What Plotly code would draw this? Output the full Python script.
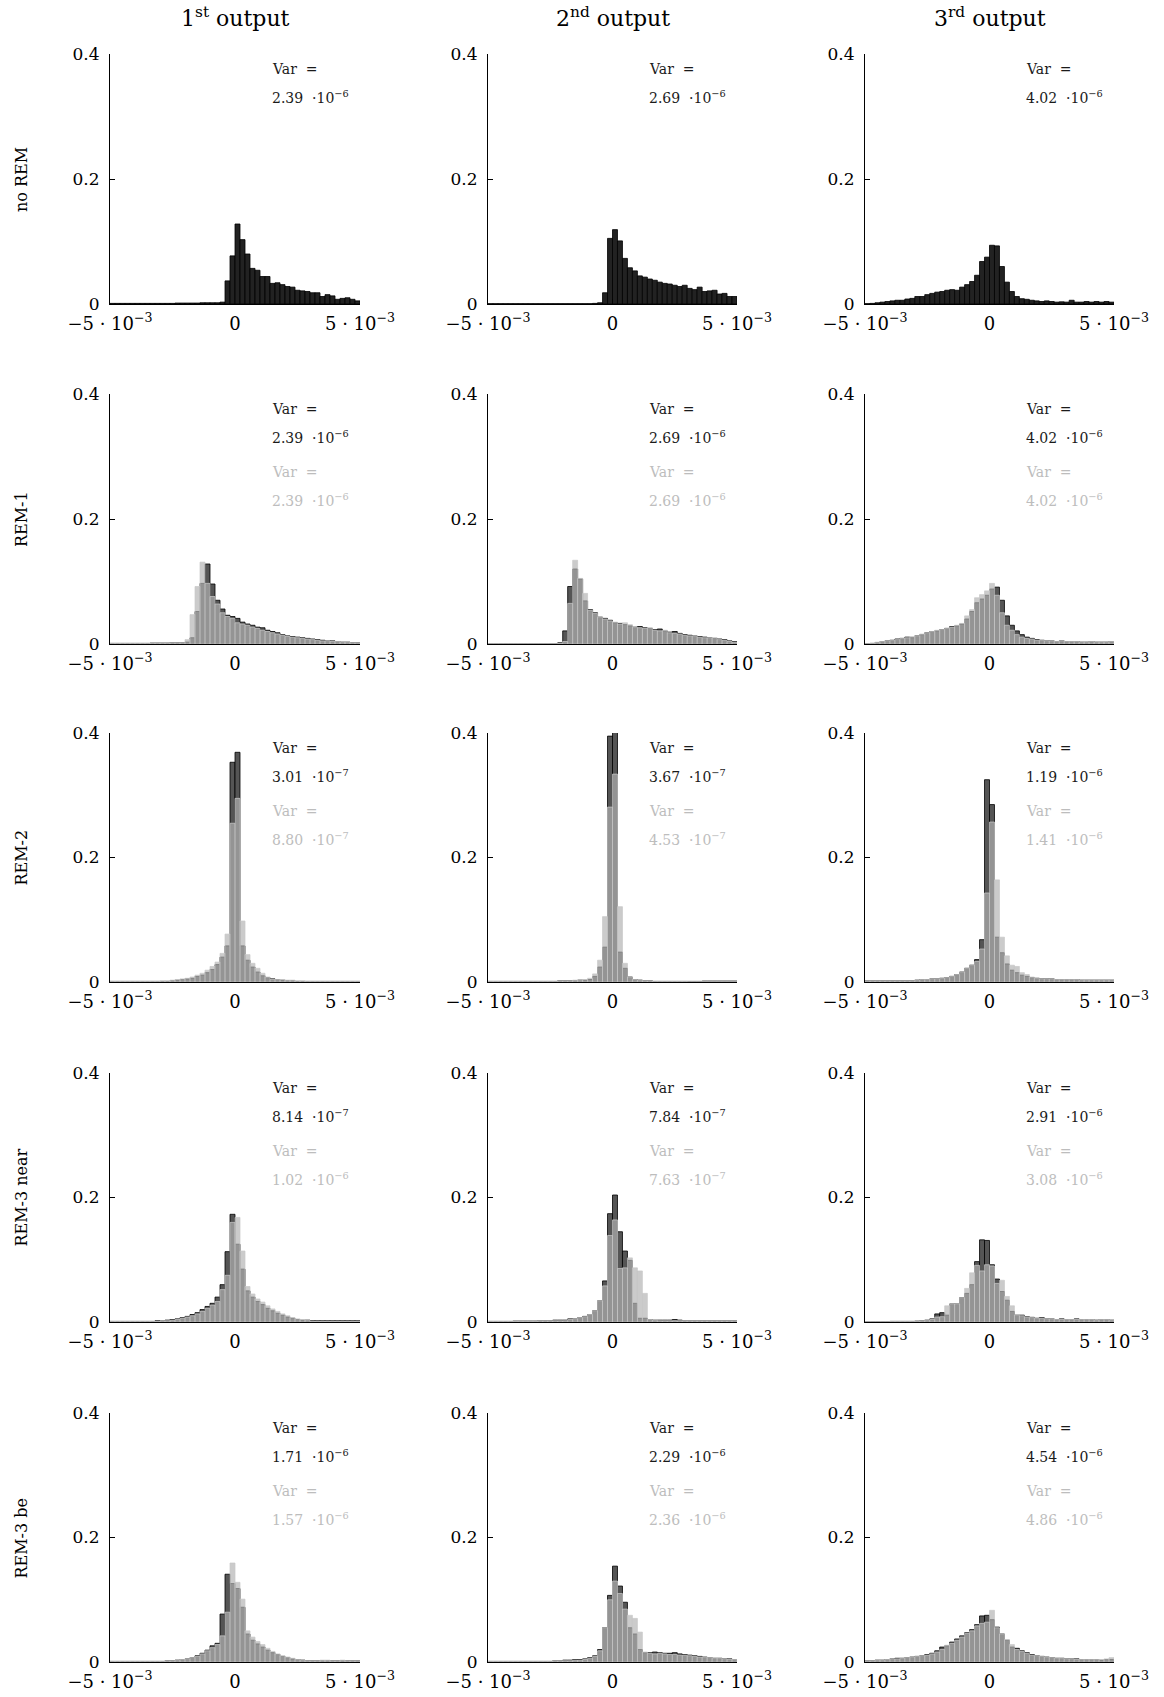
import plotly.graph_objects as go

# ---------------- data ----------------
BIN_WIDTH = 2e-4
N_BINS = 50
X_MIN, X_MAX = -5e-3, 5e-3
bin_centers = [X_MIN + BIN_WIDTH * (k + 0.5) for k in range(N_BINS)]

col_titles = ["1<sup>st</sup> output", "2<sup>nd</sup> output", "3<sup>rd</sup> output"]
row_labels = ["no REM", "REM-1", "REM-2", "REM-3 near", "REM-3 be"]

x_tickvals = [-5e-3, 0, 5e-3]
x_ticktext = ["\u22125 \u00b7 10<sup>\u22123</sup>", "0", "5 \u00b7 10<sup>\u22123</sup>"]
y_tickvals = [0, 0.2, 0.4]
y_ticktext = ["0", "0.2", "0.4"]

# ---- no REM (single series) ----
noREM_1 = [0.001,0.001,0.001,0.001,0.001,0.001,0.001,0.001,0.001,0.001,
           0.001,0.001,0.001,0.0015,0.0015,0.0015,0.0015,0.0015,0.002,0.002,
           0.002,0.002,0.003,0.037,0.077,0.128,0.103,0.080,0.057,0.054,
           0.044,0.044,0.033,0.034,0.031,0.028,0.027,0.022,0.021,0.020,
           0.018,0.018,0.012,0.015,0.013,0.0075,0.009,0.010,0.0075,0.005]
noREM_2 = [0.0005,0.0005,0.0005,0.0005,0.0005,0.0005,0.0005,0.0005,0.0005,0.0005,
           0.0005,0.0005,0.0005,0.0005,0.0005,0.0005,0.0005,0.0005,0.0005,0.0005,
           0.0005,0.001,0.002,0.018,0.105,0.119,0.101,0.073,0.058,0.053,
           0.045,0.043,0.040,0.038,0.035,0.033,0.032,0.030,0.028,0.030,
           0.025,0.023,0.027,0.020,0.021,0.022,0.016,0.017,0.012,0.012]
noREM_3 = [0.0005,0.001,0.002,0.003,0.004,0.005,0.006,0.006,0.008,0.009,
           0.012,0.012,0.015,0.017,0.019,0.020,0.022,0.023,0.022,0.027,
           0.031,0.036,0.046,0.068,0.075,0.094,0.093,0.060,0.035,0.020,
           0.012,0.0085,0.0075,0.006,0.005,0.004,0.005,0.004,0.003,0.0035,
           0.003,0.006,0.003,0.003,0.004,0.003,0.004,0.003,0.004,0.003]

# ---- REM-1 ----
rem1_1_dark = [0.001,0.001,0.001,0.001,0.001,0.001,0.001,0.001,0.0015,0.0015,
               0.0015,0.0015,0.002,0.002,0.002,0.003,0.010,0.052,0.097,0.128,
               0.096,0.070,0.056,0.046,0.044,0.041,0.035,0.032,0.030,0.027,
               0.026,0.022,0.020,0.018,0.015,0.013,0.012,0.011,0.010,0.009,
               0.008,0.007,0.006,0.005,0.005,0.004,0.003,0.003,0.002,0.002]
rem1_1_light = [0.001,0.001,0.001,0.001,0.001,0.001,0.001,0.001,0.0015,0.0015,
                0.0015,0.0015,0.002,0.002,0.002,0.007,0.047,0.092,0.131,0.097,
                0.076,0.064,0.050,0.044,0.041,0.034,0.032,0.030,0.027,0.025,
                0.022,0.020,0.018,0.016,0.014,0.012,0.011,0.010,0.009,0.008,
                0.007,0.006,0.005,0.005,0.004,0.004,0.003,0.003,0.002,0.002]
rem1_2_dark = [0.0005,0.0005,0.0005,0.0005,0.0005,0.0005,0.0005,0.0005,0.0005,0.0005,
               0.0005,0.0005,0.0005,0.0005,0.002,0.021,0.092,0.120,0.104,0.069,
               0.055,0.050,0.043,0.041,0.038,0.034,0.033,0.031,0.029,0.027,
               0.028,0.026,0.025,0.023,0.024,0.021,0.019,0.020,0.017,0.015,
               0.014,0.013,0.012,0.011,0.010,0.009,0.008,0.007,0.005,0.004]
rem1_2_light = [0.0005,0.0005,0.0005,0.0005,0.0005,0.0005,0.0005,0.0005,0.0005,0.0005,
                0.0005,0.0005,0.0005,0.0005,0.001,0.004,0.065,0.134,0.105,0.081,
                0.054,0.049,0.043,0.040,0.037,0.035,0.032,0.034,0.031,0.027,
                0.026,0.025,0.026,0.022,0.021,0.022,0.018,0.017,0.016,0.014,
                0.013,0.013,0.011,0.010,0.010,0.010,0.007,0.006,0.004,0.003]
rem1_3_dark = [0.0005,0.001,0.002,0.004,0.005,0.006,0.008,0.009,0.011,0.010,
               0.013,0.015,0.018,0.020,0.021,0.023,0.025,0.028,0.029,0.032,
               0.040,0.052,0.066,0.072,0.078,0.088,0.091,0.070,0.045,0.030,
               0.021,0.015,0.011,0.009,0.007,0.006,0.005,0.005,0.004,0.005,
               0.004,0.004,0.004,0.003,0.003,0.004,0.003,0.003,0.003,0.004]
rem1_3_light = [0.0005,0.001,0.003,0.004,0.005,0.006,0.007,0.009,0.010,0.012,
                0.013,0.016,0.018,0.020,0.022,0.023,0.025,0.027,0.030,0.033,
                0.045,0.055,0.074,0.079,0.085,0.097,0.078,0.050,0.030,0.022,
                0.015,0.011,0.009,0.008,0.006,0.006,0.005,0.005,0.004,0.005,
                0.004,0.004,0.004,0.003,0.003,0.004,0.003,0.003,0.003,0.004]

# ---- REM-2 ----
rem2_1_dark = [0.001,0.001,0.001,0.001,0.001,0.001,0.001,0.001,0.001,0.001,
               0.001,0.001,0.002,0.003,0.004,0.005,0.006,0.009,0.011,0.015,
               0.020,0.028,0.040,0.058,0.353,0.369,0.058,0.035,0.024,0.016,
               0.010,0.007,0.005,0.004,0.003,0.002,0.002,0.001,0.001,0.001,
               0.001,0.001,0.001,0.001,0.001,0.001,0.001,0.001,0.001,0.001]
rem2_1_light = [0.001,0.001,0.001,0.001,0.001,0.001,0.001,0.001,0.001,0.001,
                0.002,0.002,0.003,0.004,0.005,0.006,0.008,0.011,0.014,0.019,
                0.025,0.032,0.046,0.077,0.255,0.295,0.098,0.044,0.030,0.022,
                0.014,0.008,0.004,0.004,0.004,0.003,0.003,0.002,0.002,0.001,
                0.001,0.001,0.001,0.001,0.001,0.001,0.001,0.001,0.001,0.001]
rem2_2_dark = [0.001,0.001,0.001,0.001,0.001,0.001,0.001,0.001,0.001,0.001,
               0.001,0.001,0.001,0.001,0.002,0.002,0.002,0.002,0.003,0.003,
               0.004,0.009,0.024,0.056,0.395,0.401,0.048,0.022,0.008,0.004,
               0.003,0.002,0.002,0.001,0.001,0.001,0.001,0.001,0.001,0.001,
               0.001,0.001,0.001,0.0015,0.0015,0.0015,0.0015,0.0015,0.0015,0.0015]
rem2_2_light = [0.001,0.001,0.001,0.001,0.001,0.001,0.001,0.001,0.001,0.001,
                0.001,0.001,0.001,0.001,0.002,0.002,0.002,0.003,0.003,0.004,
                0.006,0.013,0.035,0.105,0.281,0.334,0.121,0.030,0.008,0.004,
                0.003,0.002,0.002,0.001,0.001,0.001,0.001,0.001,0.001,0.001,
                0.0005,0.0005,0.0005,0.0005,0.0005,0.0005,0.0005,0.0005,0.0005,0.0005]
rem2_3_dark = [0.002,0.002,0.002,0.002,0.002,0.002,0.002,0.002,0.002,0.002,
               0.003,0.004,0.004,0.005,0.005,0.006,0.007,0.009,0.012,0.016,
               0.022,0.027,0.036,0.068,0.325,0.285,0.072,0.047,0.029,0.019,
               0.015,0.011,0.009,0.007,0.006,0.005,0.005,0.005,0.004,0.004,
               0.004,0.004,0.004,0.003,0.003,0.003,0.003,0.003,0.003,0.003]
rem2_3_light = [0.002,0.002,0.002,0.002,0.002,0.002,0.002,0.002,0.002,0.002,
                0.003,0.004,0.004,0.005,0.005,0.006,0.007,0.009,0.012,0.016,
                0.022,0.027,0.033,0.053,0.143,0.257,0.164,0.072,0.042,0.027,
                0.025,0.015,0.012,0.008,0.006,0.005,0.005,0.005,0.004,0.004,
                0.004,0.004,0.004,0.003,0.003,0.003,0.003,0.003,0.003,0.003]

# ---- REM-3 near ----
rem3n_1_dark = [0.001,0.001,0.001,0.001,0.001,0.001,0.001,0.001,0.001,0.002,
                0.002,0.003,0.004,0.005,0.007,0.009,0.012,0.015,0.020,0.025,
                0.030,0.040,0.060,0.113,0.173,0.125,0.085,0.050,0.040,0.033,
                0.028,0.022,0.018,0.014,0.011,0.008,0.006,0.004,0.003,0.003,
                0.002,0.002,0.002,0.002,0.002,0.002,0.002,0.002,0.002,0.002]
rem3n_1_light = [0.001,0.001,0.001,0.001,0.001,0.001,0.001,0.001,0.001,0.001,
                 0.002,0.002,0.003,0.004,0.006,0.008,0.010,0.013,0.017,0.022,
                 0.027,0.033,0.052,0.075,0.160,0.168,0.114,0.057,0.045,0.037,
                 0.032,0.026,0.021,0.017,0.013,0.010,0.007,0.005,0.004,0.003,
                 0.001,0.001,0.001,0.001,0.001,0.001,0.001,0.001,0.001,0.001]
rem3n_2_dark = [0.001,0.001,0.001,0.001,0.001,0.0015,0.0015,0.0015,0.0015,0.0015,
                0.002,0.002,0.002,0.003,0.003,0.003,0.005,0.005,0.007,0.009,
                0.012,0.018,0.034,0.066,0.174,0.204,0.145,0.114,0.099,0.030,
                0.006,0.006,0.004,0.003,0.003,0.003,0.003,0.004,0.003,0.002,
                0.002,0.002,0.002,0.002,0.002,0.002,0.002,0.002,0.002,0.002]
rem3n_2_light = [0.001,0.001,0.001,0.001,0.001,0.001,0.001,0.001,0.001,0.001,
                 0.002,0.002,0.002,0.002,0.002,0.002,0.004,0.005,0.007,0.0085,
                 0.012,0.018,0.034,0.058,0.139,0.164,0.086,0.087,0.103,0.087,
                 0.082,0.046,0.004,0.003,0.002,0.002,0.002,0.002,0.002,0.002,
                 0.002,0.002,0.002,0.002,0.002,0.002,0.002,0.002,0.002,0.002]
rem3n_3_dark = [0.0005,0.0005,0.0005,0.0005,0.0005,0.001,0.001,0.001,0.001,0.001,
                0.0015,0.002,0.003,0.005,0.013,0.015,0.011,0.029,0.029,0.039,
                0.046,0.060,0.097,0.132,0.131,0.092,0.069,0.049,0.035,0.017,
                0.011,0.011,0.0085,0.0075,0.006,0.007,0.005,0.005,0.004,0.005,
                0.004,0.004,0.005,0.004,0.004,0.004,0.003,0.004,0.004,0.003]
rem3n_3_light = [0.0005,0.0005,0.0005,0.0005,0.0005,0.001,0.001,0.001,0.001,0.001,
                 0.0015,0.002,0.003,0.004,0.008,0.0085,0.026,0.029,0.029,0.039,
                 0.054,0.079,0.091,0.082,0.092,0.090,0.062,0.067,0.041,0.026,
                 0.011,0.010,0.008,0.007,0.006,0.006,0.005,0.005,0.004,0.004,
                 0.004,0.004,0.004,0.004,0.004,0.004,0.003,0.004,0.004,0.003]

# ---- REM-3 be ----
rem3b_1_dark = [0.001,0.001,0.001,0.001,0.001,0.001,0.001,0.001,0.001,0.001,
                0.001,0.002,0.002,0.003,0.004,0.005,0.007,0.010,0.014,0.019,
                0.026,0.030,0.077,0.141,0.126,0.118,0.088,0.045,0.035,0.029,
                0.024,0.019,0.015,0.012,0.009,0.007,0.005,0.004,0.003,0.002,
                0.002,0.002,0.002,0.002,0.002,0.002,0.002,0.002,0.002,0.002]
rem3b_1_light = [0.001,0.001,0.001,0.001,0.001,0.001,0.001,0.001,0.001,0.001,
                 0.001,0.002,0.002,0.003,0.004,0.005,0.007,0.009,0.013,0.018,
                 0.023,0.028,0.042,0.080,0.159,0.128,0.101,0.050,0.040,0.033,
                 0.028,0.022,0.017,0.013,0.010,0.008,0.006,0.004,0.003,0.002,
                 0.002,0.002,0.003,0.003,0.002,0.002,0.003,0.002,0.002,0.002]
rem3b_2_dark = [0.001,0.001,0.001,0.001,0.001,0.001,0.001,0.001,0.001,0.001,
                0.001,0.001,0.001,0.002,0.002,0.003,0.003,0.004,0.004,0.005,
                0.007,0.010,0.020,0.055,0.107,0.154,0.122,0.096,0.055,0.045,
                0.020,0.015,0.015,0.016,0.015,0.014,0.014,0.015,0.013,0.012,
                0.011,0.010,0.009,0.008,0.007,0.006,0.006,0.005,0.005,0.004]
rem3b_2_light = [0.001,0.001,0.001,0.001,0.001,0.001,0.001,0.001,0.001,0.001,
                 0.001,0.001,0.001,0.002,0.002,0.002,0.002,0.003,0.003,0.004,
                 0.006,0.009,0.018,0.055,0.100,0.130,0.110,0.085,0.075,0.070,
                 0.048,0.016,0.014,0.013,0.014,0.013,0.012,0.012,0.011,0.011,
                 0.010,0.009,0.008,0.008,0.007,0.006,0.006,0.005,0.004,0.004]
rem3b_3_dark = [0.002,0.002,0.003,0.003,0.004,0.005,0.006,0.006,0.007,0.008,
                0.009,0.010,0.012,0.014,0.018,0.024,0.026,0.032,0.037,0.042,
                0.047,0.052,0.060,0.074,0.075,0.068,0.056,0.045,0.035,0.024,
                0.022,0.018,0.015,0.012,0.010,0.009,0.008,0.007,0.006,0.006,
                0.005,0.005,0.005,0.004,0.004,0.004,0.004,0.003,0.004,0.004]
rem3b_3_light = [0.002,0.002,0.003,0.003,0.004,0.005,0.005,0.006,0.007,0.008,
                 0.009,0.010,0.011,0.013,0.016,0.020,0.027,0.030,0.035,0.040,
                 0.046,0.050,0.058,0.062,0.064,0.083,0.055,0.045,0.036,0.028,
                 0.020,0.017,0.014,0.011,0.010,0.009,0.008,0.007,0.006,0.006,
                 0.005,0.005,0.004,0.004,0.004,0.004,0.004,0.004,0.005,0.007]

dark_series = [
    [noREM_1, noREM_2, noREM_3],
    [rem1_1_dark, rem1_2_dark, rem1_3_dark],
    [rem2_1_dark, rem2_2_dark, rem2_3_dark],
    [rem3n_1_dark, rem3n_2_dark, rem3n_3_dark],
    [rem3b_1_dark, rem3b_2_dark, rem3b_3_dark],
]
light_series = [
    [None, None, None],
    [rem1_1_light, rem1_2_light, rem1_3_light],
    [rem2_1_light, rem2_2_light, rem2_3_light],
    [rem3n_1_light, rem3n_2_light, rem3n_3_light],
    [rem3b_1_light, rem3b_2_light, rem3b_3_light],
]

# variance labels: (mantissa, exponent)
var_dark = [
    [("2.39", -6), ("2.69", -6), ("4.02", -6)],
    [("2.39", -6), ("2.69", -6), ("4.02", -6)],
    [("3.01", -7), ("3.67", -7), ("1.19", -6)],
    [("8.14", -7), ("7.84", -7), ("2.91", -6)],
    [("1.71", -6), ("2.29", -6), ("4.54", -6)],
]
var_light = [
    [None, None, None],
    [("2.39", -6), ("2.69", -6), ("4.02", -6)],
    [("8.80", -7), ("4.53", -7), ("1.41", -6)],
    [("1.02", -6), ("7.63", -7), ("3.08", -6)],
    [("1.57", -6), ("2.36", -6), ("4.86", -6)],
]

# ---------------- layout geometry (page pixels) ----------------
W, H = 1164, 1697
col_px = [(110, 360), (488, 737), (865, 1114)]
row_px = [(54, 304), (394, 644), (733, 982), (1073, 1322), (1413, 1662)]


def px_x(p):
    return p / W


def px_y(p):
    return 1 - p / H


SERIF = "DejaVu Serif"
NB = "\u00a0"

fig = go.Figure()
layout = dict(
    width=W, height=H, autosize=False,
    margin=dict(l=0, r=0, t=0, b=0, pad=0, autoexpand=False),
    paper_bgcolor="white", plot_bgcolor="white",
    barmode="overlay", showlegend=False,
    font=dict(family=SERIF, color="black", size=17),
)
annotations = []

for r in range(5):
    for c in range(3):
        i = r * 3 + c + 1
        xa = "x" if i == 1 else f"x{i}"
        ya = "y" if i == 1 else f"y{i}"
        xk = "xaxis" if i == 1 else f"xaxis{i}"
        yk = "yaxis" if i == 1 else f"yaxis{i}"
        x0, x1 = col_px[c]
        y0, y1 = row_px[r]
        layout[xk] = dict(
            domain=[px_x(x0), px_x(x1)], anchor=ya, range=[X_MIN, X_MAX],
            showline=True, linecolor="black", linewidth=1, mirror=False,
            ticks="inside", ticklen=5, tickcolor="black", tickwidth=1,
            tickvals=x_tickvals, ticktext=x_ticktext, automargin=False,
            showgrid=False, zeroline=False, fixedrange=True,
            tickfont=dict(family=SERIF, size=18, color="black"),
            ticklabelstandoff=3,
            layer="below traces",
        )
        layout[yk] = dict(
            domain=[px_y(y1), px_y(y0)], anchor=xa, range=[0, 0.4],
            showline=True, linecolor="black", linewidth=1, mirror=False,
            ticks="inside", ticklen=5, tickcolor="black", tickwidth=1,
            tickvals=y_tickvals, ticktext=y_ticktext, automargin=False,
            showgrid=False, zeroline=False, fixedrange=True,
            tickfont=dict(family=SERIF, size=17, color="black"),
            ticklabelstandoff=6,
        )

        if r == 0:
            dark_fill, dark_line = "rgb(34,34,34)", "black"
        else:
            dark_fill, dark_line = "rgb(85,85,85)", "black"
        fig.add_trace(go.Bar(
            x=bin_centers, y=dark_series[r][c], width=BIN_WIDTH,
            marker=dict(color=dark_fill, line=dict(color=dark_line, width=0.8)),
            xaxis=xa, yaxis=ya, hoverinfo="skip",
        ))
        if light_series[r][c] is not None:
            fig.add_trace(go.Bar(
                x=bin_centers, y=light_series[r][c], width=BIN_WIDTH,
                marker=dict(color="rgba(178,178,178,0.68)",
                            line=dict(color="rgba(200,200,200,0.9)", width=0.8)),
                xaxis=xa, yaxis=ya, hoverinfo="skip",
            ))

        # variance annotations
        dm, de = var_dark[r][c]
        lines = [("Var" + NB + NB + "=", "#1a1a1a"),
                 (dm + NB + NB + "\u00b710<sup>\u2212%d</sup>" % (-de), "#1a1a1a")]
        if var_light[r][c] is not None:
            lm, le = var_light[r][c]
            lines += [("Var" + NB + NB + "=", "#bdbdbd"),
                      (lm + NB + NB + "\u00b710<sup>\u2212%d</sup>" % (-le), "#bdbdbd")]
        offsets = [15, 43, 78, 106]
        for (txt, col), off in zip(lines, offsets):
            annotations.append(dict(
                text=txt, xref=f"{xa} domain", yref="paper",
                x=0.64, y=px_y(y0 + off), xanchor="left", yanchor="middle",
                showarrow=False, font=dict(family=SERIF, size=14, color=col),
            ))

# column titles
for c in range(3):
    x0, x1 = col_px[c]
    annotations.append(dict(
        text=col_titles[c], xref="paper", yref="paper",
        x=px_x((x0 + x1) / 2), y=px_y(17), xanchor="center", yanchor="middle",
        showarrow=False, font=dict(family=SERIF, size=22, color="black"),
    ))
# row labels
for r in range(5):
    y0, y1 = row_px[r]
    annotations.append(dict(
        text=row_labels[r], xref="paper", yref="paper",
        x=px_x(21), y=px_y((y0 + y1) / 2), xanchor="center", yanchor="middle",
        textangle=-90, showarrow=False, font=dict(family=SERIF, size=16, color="black"),
    ))

layout["annotations"] = annotations
fig.update_layout(**layout)
# remove the page's default 8px body margin so the figure fills the window exactly
fig.write_html("out.html",
               config={"displayModeBar": False, "staticPlot": True},
               post_script="document.body.style.margin='0px';document.body.style.overflow='hidden';")
